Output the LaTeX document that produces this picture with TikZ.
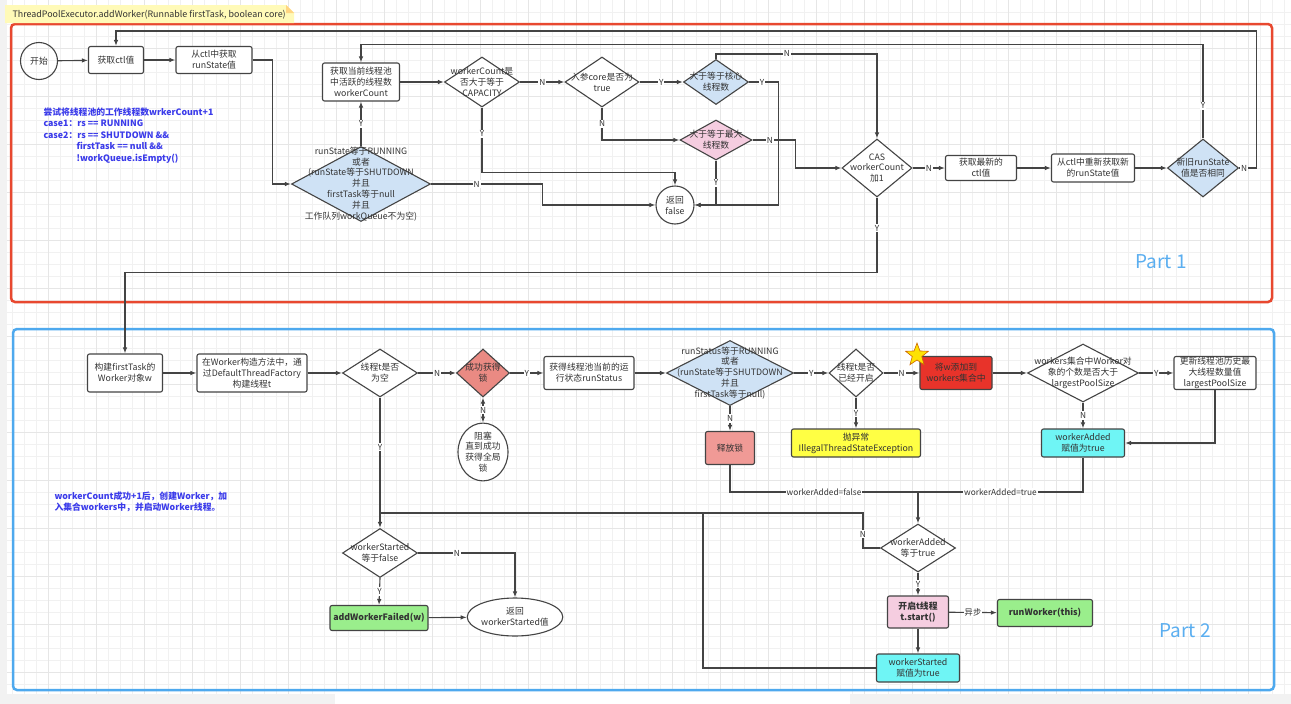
\documentclass[tikz,border=0pt]{standalone}
\usepackage{fontspec}
\setmainfont{Noto Sans CJK SC}
\usetikzlibrary{shapes.geometric,arrows.meta,calc}
\definecolor{ln}{HTML}{444444}
\definecolor{txt}{HTML}{333333}
\definecolor{lblue}{HTML}{CFE2F5}
\definecolor{lpink}{HTML}{F5CDE0}
\definecolor{lred}{HTML}{EA8A83}
\definecolor{rel}{HTML}{F09A96}
\definecolor{redbox}{HTML}{E8332A}
\definecolor{yel}{HTML}{FFFF44}
\definecolor{cyanbox}{HTML}{6FF5F5}
\definecolor{grn}{HTML}{9AEE8C}
\definecolor{anno}{HTML}{3B3BEA}
\definecolor{partc}{HTML}{5AAEF0}
\definecolor{frameR}{HTML}{E8482F}
\definecolor{frameB}{HTML}{4EA9EE}
\definecolor{notec}{HTML}{FFFAB8}
\definecolor{gridc}{HTML}{F1F1F1}
\definecolor{gridm}{HTML}{E6E6E6}
\newcommand\mydia[6]{\node[dia, minimum width=#3, minimum height=#4, fill=#5] (#1) at (#2) {};\node[base] (#1t) at (#1) {#6};}
\tikzset{
  base/.style={font=\fontsize{8.8}{10.9}\selectfont, text=txt, align=center},
  box/.style={base, draw=ln, line width=1.1pt, rounded corners=2pt, fill=white, inner sep=0.5pt},
  dia/.style={diamond, draw=ln, line width=1.1pt, inner sep=0pt, fill=white},
  arr/.style={draw=ln, line width=1.1pt, -{Latex[length=6pt,width=4.5pt]}},
  con/.style={draw=ln, line width=1.1pt},
  lbl/.style={font=\fontsize{8.3}{9}\selectfont, text=txt, fill=white, inner sep=1pt},
  bold/.style={font=\fontsize{8.8}{10.9}\selectfont\bfseries},
}
\begin{document}
\begin{tikzpicture}[x=1pt,y=-1pt]
\useasboundingbox (0,0) rectangle (1291,704);
\fill[white] (0,0) rectangle (1291,704);
% grid
\foreach \x in {12,24,...,1290} \draw[gridc, line width=0.5pt] (\x,0) -- (\x,704);
\foreach \y in {12,24,...,703} \draw[gridc, line width=0.5pt] (0,\y) -- (1291,\y);
\foreach \x in {48,96,...,1290} \draw[gridm, line width=0.6pt] (\x,0) -- (\x,704);
\foreach \y in {48,96,...,703} \draw[gridm, line width=0.6pt] (0,\y) -- (1291,\y);
\fill[gray!10] (0,0) rectangle (7,704);
\fill[gray!10] (0,694) rectangle (1291,704);
\fill[white] (335,691) rectangle (850,704);

% frames
\draw[frameR, line width=2.5pt, rounded corners=4pt] (11,24) rectangle (1272,302);
\draw[frameB, line width=2.5pt, rounded corners=4pt] (13,329) rectangle (1274,690);

% title note
\fill[notec] (5,5) -- (286,5) -- (294,13) -- (294,23) -- (5,23) -- cycle;
\fill[notec!70!orange] (286,5) -- (286,13) -- (294,13) -- cycle;
\node[font=\fontsize{8.9}{10}\selectfont, text=txt, anchor=west] (title) at (9,14.5) {ThreadPoolExecutor.addWorker(Runnable firstTask, boolean core)};

% annotations
\node[anchor=north west, align=left, text=anno, font=\fontsize{8.8}{11.6}\selectfont\bfseries] (note1) at (40,104)
 {尝试将线程池的工作线程数wrkerCount+1\\case1：rs == RUNNING\\case2：rs == SHUTDOWN \&\&\\\hspace*{33pt}firstTask == null \&\&\\\hspace*{33pt}!workQueue.isEmpty()};
\node[anchor=north west, align=left, text=anno, font=\fontsize{8.8}{11.6}\selectfont\bfseries] (note2) at (51,488)
 {workerCount成功+1后，创建Worker，加\\入集合workers中，并启动Worker线程。};
\node[text=partc, font=\fontsize{19}{20}\selectfont] (p1) at (1161,262) {Part 1};
\node[text=partc, font=\fontsize{19}{20}\selectfont] (p2) at (1185,631) {Part 2};

% ---------- Part 1 nodes ----------
\node[base, circle, draw=ln, line width=1.1pt, minimum size=37, inner sep=0] (start) at (39,61) {开始};
\node[box, minimum width=55, minimum height=27] (ctl) at (116,60) {获取ctl值};
\node[box, minimum width=76, minimum height=27] (rs) at (214,60) {从ctl中获取\\runState值};
\node[box, minimum width=77, minimum height=38] (wc) at (361,82) {获取当前线程池\\中活跃的线程数\\workerCount};
\mydia{d1}{361,184}{139}{75}{lblue}{runState等于RUNNING\\或者\\(runState等于SHUTDOWN\\并且\\firstTask等于null\\并且\\工作队列workQueue不为空)}
\mydia{cap}{482,82}{75}{50}{white}{workerCount是\\否大于等于\\CAPACITY}
\mydia{core}{602,82}{74}{50}{white}{入参core是否为\\true}
\mydia{kern}{716,82}{65}{45}{lblue}{大于等于核心\\线程数}
\mydia{max}{716,140}{72}{40}{lpink}{大于等于最大\\线程数}
\node[base, circle, draw=ln, line width=1.1pt, minimum size=38, inner sep=0, fill=white] (ret) at (675,205) {返回\\false};
\mydia{cas}{877,168}{70}{58}{white}{CAS\\workerCount\\加1}
\node[box, minimum width=71, minimum height=25] (newctl) at (981,168) {获取最新的\\ctl值};
\node[box, minimum width=83, minimum height=28] (newrs) at (1093,168) {从ctl中重新获取新\\的runState值};
\mydia{same}{1203,168}{71}{58}{lblue}{新旧runState\\值是否相同}

% ---------- Part 2 nodes ----------
\node[box, minimum width=75, minimum height=38] (build) at (125,373) {构建firstTask的\\Worker对象w};
\node[box, minimum width=110, minimum height=38] (thread) at (252,373) {在Worker构造方法中，通\\过DefaultThreadFactory\\构建线程t};
\mydia{tnull}{380,373}{75}{48}{white}{线程t是否\\为空}
\mydia{lock}{483,373}{53}{48}{lred}{成功获得\\锁}
\node[base, ellipse, draw=ln, line width=1.1pt, minimum width=50, minimum height=47, inner sep=0, fill=white] (block) at (483,452) {阻塞\\直到成功\\获得全局\\锁};
\node[box, minimum width=90, minimum height=33] (runst) at (589,373) {获得线程池当前的运\\行状态runStatus};
\mydia{rsd}{730,373}{127}{65}{lblue}{runStatus等于RUNNING\\或者\\(runState等于SHUTDOWN\\并且\\firstTask等于null)}
\mydia{started}{856,373}{54}{48}{white}{线程t是否\\已经开启}
\node[box, fill=rel, minimum width=49, minimum height=33] (release) at (730,448) {释放锁};
\node[box, fill=yel, minimum width=129, minimum height=28] (exc) at (856,443) {抛异常\\IllegalThreadStateException};
\node[box, fill=redbox, minimum width=72, minimum height=33] (addw) at (956,373) {将w添加到\\workers集合中};
\node[star, star points=5, star point ratio=2.4, fill=yellow!85!orange, draw=orange!80!black, line width=0.6pt, minimum size=24, inner sep=0] (star) at (917,355) {};
\mydia{gt}{1083,373}{111}{58}{white}{workers集合中Worker对\\象的个数是否大于\\largestPoolSize}
\node[box, minimum width=82, minimum height=33] (upd) at (1215,373) {更新线程池历史最\\大线程数量值\\largestPoolSize};
\node[box, fill=cyanbox, minimum width=83, minimum height=28] (wa) at (1083,443) {workerAdded\\赋值为true};
\coordinate (j1) at (918,492);
\coordinate (j2) at (380,513);
\coordinate (j3) at (703,513);
\mydia{wadd}{918,548}{75}{48}{white}{workerAdded\\等于true}
\mydia{wsf}{380,553}{75}{49}{white}{workerStarted\\等于false}
\node[box, bold, fill=grn, minimum width=98, minimum height=25] (failed) at (379,618) {addWorkerFailed(w)};
\node[base, ellipse, draw=ln, line width=1.1pt, minimum width=83, minimum height=38, inner sep=0, fill=white] (retw) at (515,617) {返回\\workerStarted值};
\node[box, bold, fill=lpink, minimum width=61, minimum height=32] (tstart) at (918,612) {开启t线程\\t.start()};
\node[box, bold, fill=grn, minimum width=95, minimum height=27] (runw) at (1045,613) {runWorker(this)};
\node[box, fill=cyanbox, minimum width=83, minimum height=28] (wstrue) at (918,668) {workerStarted\\赋值为true};

% ---------- Part 1 connectors ----------
\draw[arr] (start) -- (ctl);
\draw[arr] (ctl) -- (rs);
\draw[arr] (rs.east) -- ++(20,0) |- (d1.west);
\draw[arr] (d1.north) -- node[lbl]{Y} (wc.south);
\draw[arr] (wc) -- (cap);
\draw[arr] (cap) -- node[lbl]{N} (core);
\draw[arr] (cap.south) -- node[lbl,pos=0.4]{Y} ++(0,65) -| (ret.north);
\draw[arr] (d1.east) -- node[lbl,pos=0.41]{N} ++(111,0) |- (ret.west);
\draw[arr] (core.south) |- node[lbl,pos=0.25]{N} (max.west);
\draw[arr] (core) -- node[lbl]{Y} (kern);
\draw[arr] (kern.east) -- node[lbl,pos=0.45]{Y} ++(29,0) |- (ret.east);
\draw[arr] (max.south) |- node[lbl,pos=0.25]{Y} (ret.east);
\draw[arr] (kern.north) -- ++(0,-5) -| node[lbl,pos=0.22]{N} (cas.north);
\draw[arr] (max.east) -- node[lbl,pos=0.4]{N} ++(43,0) |- (cas.west);
\draw[arr] (cas) -- node[lbl]{N} (newctl);
\draw[arr] (newctl) -- (newrs);
\draw[arr] (newrs) -- (same);
\draw[arr] (same.north) -- node[lbl,pos=0.35]{Y} ++(0,-94) -| (wc.north);
\draw[arr] (same.east) -- node[lbl,pos=0.3]{N} ++(17,0) -- ++(0,-137) -| (ctl.north);
\draw[arr] (cas.south) -- node[lbl,pos=0.41]{Y} ++(0,75) -| (build.north);

% ---------- Part 2 connectors ----------
\draw[arr] (build) -- (thread);
\draw[arr] (thread) -- (tnull);
\draw[arr] (tnull) -- node[lbl]{N} (lock);
\draw[con, {Latex[length=6pt,width=4.5pt]}-{Latex[length=6pt,width=4.5pt]}] (lock.south) -- node[lbl]{N} (block.north);
\draw[arr] (lock) -- node[lbl]{Y} (runst);
\draw[arr] (runst) -- (rsd);
\draw[arr] (rsd) -- node[lbl]{Y} (started);
\draw[arr] (rsd.south) -- node[lbl]{N} (release.north);
\draw[arr] (started.south) -- node[lbl]{Y} (exc.north);
\draw[arr] (started) -- node[lbl]{N} (addw);
\draw[arr] (addw) -- (gt);
\draw[arr] (gt) -- node[lbl]{Y} (upd);
\draw[arr] (gt.south) -- node[lbl]{N} (wa.north);
\draw[arr] (upd.south) |- (wa.east);
\draw[con] (wa.south) |- node[lbl,pos=0.75]{workerAdded=true} (j1);
\draw[con] (release.south) |- node[lbl,pos=0.75]{workerAdded=false} (j1);
\draw[arr] (j1) -- (wadd.north);
\draw[con] (wadd.west) -- ++(-17,0) |- node[lbl,pos=0.2]{N} (j2);
\draw[con] (wstrue.west) -| (j3);
\draw[arr] (tnull.south) -- node[lbl,pos=0.38]{Y} (wsf.north);
\draw[arr] (wsf.east) -| node[lbl,pos=0.2]{N} (retw.north);
\draw[arr] (wsf.south) -- node[lbl]{Y} (failed.north);
\draw[arr] (failed) -- (retw);
\draw[arr] (wadd.south) -- node[lbl]{Y} (tstart.north);
\draw[arr] (tstart) -- node[lbl]{异步} (runw);
\draw[arr] (tstart) -- (wstrue);
\end{tikzpicture}
\end{document}
